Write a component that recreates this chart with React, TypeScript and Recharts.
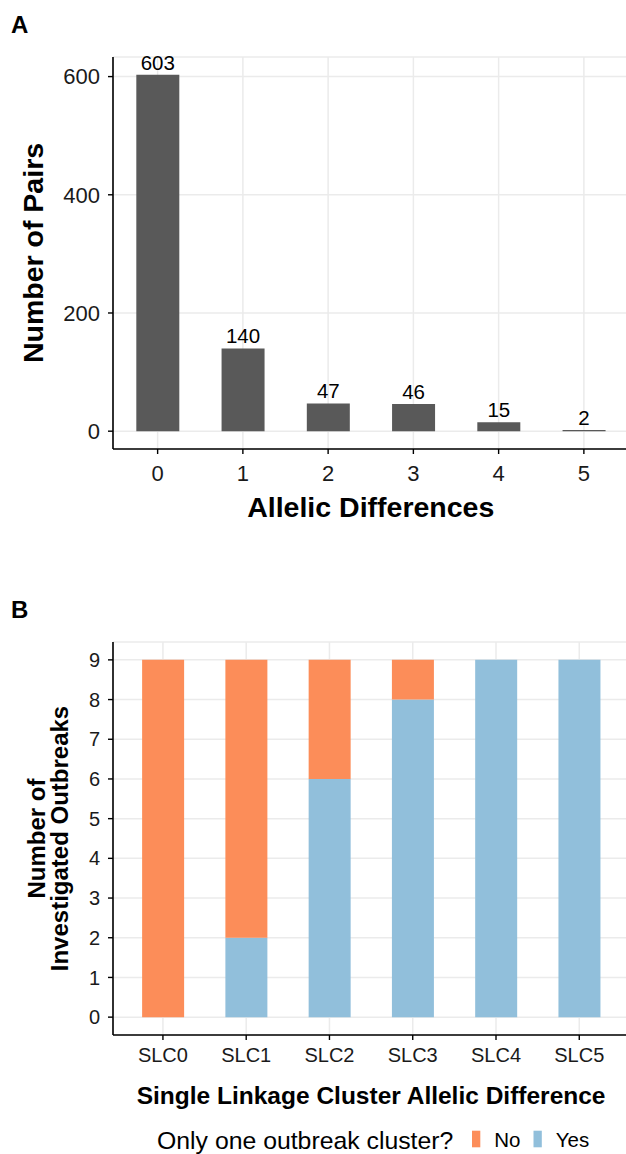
import React from 'react'
import { Bar, BarChart, CartesianGrid, Label, LabelList, Legend, XAxis, YAxis } from 'recharts'

// panel A
const allelicDiffs = ['0', '1', '2', '3', '4', '5']
const pairCounts = [603, 140, 47, 46, 15, 2]
const pairTicks = [0, 200, 400, 600]

// panel B
const clusters = ['SLC0', 'SLC1', 'SLC2', 'SLC3', 'SLC4', 'SLC5']
const yesCounts = [0, 2, 6, 8, 9, 9]
const noCounts = [9, 7, 3, 1, 0, 0]
const outbreakTicks = [0, 1, 2, 3, 4, 5, 6, 7, 8, 9]
const legendOrder = ['No', 'Yes']

const pairsData = allelicDiffs.map((d, i) => ({ diff: d, pairs: pairCounts[i] }))
const outbreakData = clusters.map((c, i) => ({ cluster: c, Yes: yesCounts[i], No: noCounts[i] }))

const FONT = '"Liberation Sans", Arial, Helvetica, sans-serif'
const GRID = '#EBEBEB'
const ORANGE = '#FC8D59'
const BLUE = '#91BFDB'
const GREY = '#595959'

const axisLine = { stroke: '#000', strokeWidth: 1.6 }
const tickLine = { stroke: '#000', strokeWidth: 1.4 }

type VB = { x: number; y: number; width: number; height: number }

// rotated (possibly multi-line) y axis title
const yTitle = (lines: string[], fontSize: number, baseline: number, lineGap: number, fallback: VB) =>
    (props: any) => {
        const vb: VB = props && props.viewBox && props.viewBox.height ? props.viewBox : fallback
        const cy = vb.y + vb.height / 2
        const bx = vb.x + baseline
        return (
            <g transform={`translate(${bx},${cy}) rotate(-90)`}>
                <text textAnchor="middle" fontSize={fontSize} fontWeight={700} fill="#000" fontFamily={FONT}>
                    {lines.map((l, i) => (
                        <tspan key={l} x={0} y={i * lineGap}>{l}</tspan>
                    ))}
                </text>
            </g>
        )
    }

const renderOutbreakLegend = (props: any) => {
    const payload = [...(props.payload ?? [])].sort(
        (a: any, b: any) => legendOrder.indexOf(a.value) - legendOrder.indexOf(b.value)
    )
    return (
        <svg width={626} height={34} style={{ display: 'block', fontFamily: FONT }}>
            <text x={157} y={29} fontSize={24.8} fill="#000">Only one outbreak cluster?</text>
            {payload.map((p: any, i: number) => {
                const kx = 472 + i * 61.5
                return (
                    <g key={p.value}>
                        <rect x={kx} y={10.7} width={8.3} height={16.6} fill={p.color} />
                        <text x={kx + 22.3} y={26.7} fontSize={20.5} fill="#000">{p.value}</text>
                    </g>
                )
            })}
        </svg>
    )
}

const panelLetter = (text: string, top: number) => (
    <div style={{ position: 'absolute', left: 11, top, fontSize: 24, fontWeight: 700, lineHeight: 1 }}>{text}</div>
)

const App = () => {
    return (
        <div style={{ position: 'absolute', left: 0, top: 0, width: 626, height: 1154, overflow: 'hidden', background: '#fff', fontFamily: FONT }}>
            {panelLetter('A', 12.7)}
            <div style={{ position: 'absolute', left: 0, top: 0 }}>
                <BarChart width={640} height={540} data={pairsData} margin={{ top: 57, right: 11.5, bottom: 21, left: 0 }} barCategoryGap="25%">
                    <CartesianGrid stroke={GRID} strokeWidth={1.5} />
                    <XAxis dataKey="diff" height={70} padding={{ left: 2, right: 2 }} interval={0}
                        axisLine={axisLine} tickLine={tickLine} tickSize={5} tickMargin={11}
                        tick={{ fontSize: 22, fill: '#1a1a1a' }}>
                        <Label value="Allelic Differences" position="insideBottom" offset={2} fill="#000"
                            style={{ fontSize: 28.5, fontWeight: 700, fill: '#000' }} />
                    </XAxis>
                    <YAxis width={113} type="number" domain={[-30.15, 633.15]} ticks={pairTicks} interval={0}
                        axisLine={axisLine} tickLine={tickLine} tickSize={5} tickMargin={8}
                        tick={{ fontSize: 22, fill: '#1a1a1a' }}>
                        <Label content={yTitle(['Number of Pairs'], 28.5, 42.5, 0, { x: 0, y: 57, width: 113, height: 392 })} />
                    </YAxis>
                    <Bar dataKey="pairs" fill={GREY} isAnimationActive={false}>
                        <LabelList dataKey="pairs" position="top" fill="#000" style={{ fontSize: 20.5, fill: '#000' }} />
                    </Bar>
                </BarChart>
            </div>

            {panelLetter('B', 597.7)}
            <div style={{ position: 'absolute', left: 0, top: 590 }}>
                <BarChart width={640} height={564} data={outbreakData} margin={{ top: 52, right: 10.8, bottom: 47, left: 0 }} barCategoryGap="25%">
                    <CartesianGrid stroke={GRID} strokeWidth={1.5} />
                    <XAxis dataKey="cluster" height={72} padding={{ left: 8.3, right: 8.3 }} interval={0}
                        axisLine={axisLine} tickLine={tickLine} tickSize={5} tickMargin={8}
                        tick={{ fontSize: 20, fill: '#1a1a1a' }}>
                        <Label value="Single Linkage Cluster Allelic Difference" position="insideBottom" offset={3} fill="#000"
                            style={{ fontSize: 24.5, fontWeight: 700, fill: '#000' }} />
                    </XAxis>
                    <YAxis width={113} type="number" domain={[-0.45, 9.45]} ticks={outbreakTicks} interval={0}
                        axisLine={axisLine} tickLine={tickLine} tickSize={5} tickMargin={8}
                        tick={{ fontSize: 20, fill: '#1a1a1a' }}>
                        <Label content={yTitle(['Number of', 'Investigated Outbreaks'], 24, 45, 23.3, { x: 0, y: 52, width: 113, height: 393 })} />
                    </YAxis>
                    <Bar dataKey="Yes" name="Yes" stackId="s" fill={BLUE} isAnimationActive={false} />
                    <Bar dataKey="No" name="No" stackId="s" fill={ORANGE} isAnimationActive={false} />
                    <Legend layout="horizontal" verticalAlign="middle" align="center"
                        wrapperStyle={{ left: 0, top: 530, width: 626, height: 34 }}
                        content={renderOutbreakLegend} />
                </BarChart>
            </div>
        </div>
    )
}

export default App
